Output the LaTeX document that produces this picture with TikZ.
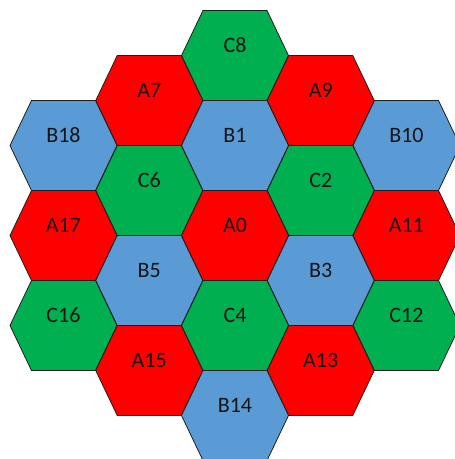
\documentclass[tikz,border=0pt]{standalone}
\usepackage{fontspec}
\setmainfont{Carlito}

\begin{document}
\begin{tikzpicture}[x=1pt,y=-1pt,
  cellA/.style={fill={rgb,255:red,255;green,0;blue,0},draw={rgb,255:red,30;green,30;blue,30},line width=0.8pt,line join=miter},
  cellB/.style={fill={rgb,255:red,91;green,155;blue,213},draw={rgb,255:red,30;green,30;blue,30},line width=0.8pt,line join=miter},
  cellC/.style={fill={rgb,255:red,0;green,176;blue,80},draw={rgb,255:red,30;green,30;blue,30},line width=0.8pt,line join=miter},
  celltext/.style={font=\fontsize{22}{26}\selectfont,text={rgb,255:red,20;green,20;blue,20},inner sep=0pt}]
% 455 x 459 px, 19 cells in three colours
\useasboundingbox (0,0) rectangle (455,459);
\clip (0,0) rectangle (455,459);
\foreach \col/\row/\kind/\txt in {
    2/0/cellC/C8,
    1/1/cellA/A7, 3/1/cellA/A9,
    0/2/cellB/B18, 2/2/cellB/B1, 4/2/cellB/B10,
    1/3/cellC/C6, 3/3/cellC/C2,
    0/4/cellA/A17, 2/4/cellA/A0, 4/4/cellA/A11,
    1/5/cellB/B5, 3/5/cellB/B3,
    0/6/cellC/C16, 2/6/cellC/C4, 4/6/cellC/C12,
    1/7/cellA/A15, 3/7/cellA/A13,
    2/8/cellB/B14} {
  \pgfmathsetmacro\cx{63.5+85.75*\col}
  \pgfmathsetmacro\cy{55.5+45*\row}
  \path[\kind] (\cx-53.5,\cy) -- ++(21.5,-45) -- ++(64,0) -- ++(21.5,45)
    -- ++(-21.5,45) -- ++(-64,0) -- cycle;
  \node[celltext] (\txt) at (\cx,\cy-10) {\txt};
}
\end{tikzpicture}
\end{document}
